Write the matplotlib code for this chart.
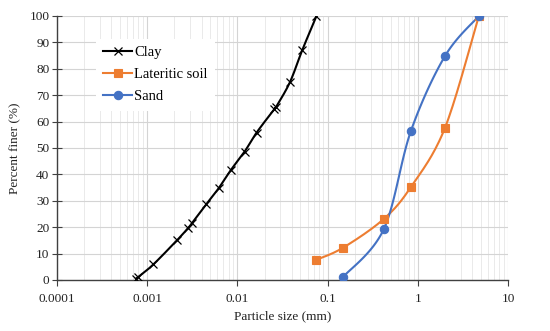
import numpy as np
import matplotlib
matplotlib.use('Agg')
import matplotlib.pyplot as plt
from matplotlib.ticker import LogLocator, FixedLocator, NullFormatter, FixedFormatter

# ---- data ----
clay_size = [0.00075, 0.00080, 0.00117, 0.00216, 0.00286, 0.00316, 0.00454, 0.00618,
             0.00848, 0.0120, 0.0163, 0.0255, 0.0270, 0.0382, 0.0524, 0.0753]
clay_finer = [0.5, 1.2, 5.9, 15.2, 19.8, 21.7, 28.8, 34.7,
              41.7, 48.6, 55.8, 64.6, 65.7, 74.9, 87.1, 100.0]

lat_size = [0.0743, 0.148, 0.419, 0.838, 2.0, 4.75]
lat_finer = [7.6, 12.2, 23.1, 35.2, 57.6, 100.0]

sand_size = [0.148, 0.419, 0.838, 2.0, 4.75]
sand_finer = [1.1, 19.2, 56.4, 84.8, 100.0]

x_ticks = [0.0001, 0.001, 0.01, 0.1, 1, 10]
x_tick_labels = ['0.0001', '0.001', '0.01', '0.1', '1', '10']
y_ticks = list(range(0, 101, 10))

series_names = ['Clay', 'Lateritic soil', 'Sand']

plt.rcParams['font.family'] = ['Liberation Serif', 'DejaVu Serif']
FS = 9.5

fig = plt.figure(figsize=(5.5, 3.31), dpi=100)
ax = fig.add_axes([57/550, 1-280/331, (508-57)/550, (280-16)/331])
ax.set_xscale('log')
ax.set_xlim(0.0001, 10)
ax.set_ylim(0, 100)


def smooth_curve(xs, ys, n=30):
    """Excel-like smoothing: cardinal (Catmull-Rom) bezier in display space."""
    pts = ax.transData.transform(np.column_stack([xs, ys]))
    out = [pts[0]]
    m = len(pts)
    for i in range(m - 1):
        p0 = pts[i - 1] if i > 0 else pts[i]
        p1 = pts[i]
        p2 = pts[i + 1]
        p3 = pts[i + 2] if i + 2 < m else pts[i + 1]
        c1 = p1 + (p2 - p0) / 6.0
        c2 = p2 - (p3 - p1) / 6.0
        t = np.linspace(0, 1, n)[1:, None]
        seg = ((1 - t) ** 3) * p1 + 3 * ((1 - t) ** 2) * t * c1 + 3 * (1 - t) * t ** 2 * c2 + t ** 3 * p2
        out.extend(seg)
    out = np.array(out)
    data = ax.transData.inverted().transform(out)
    return data[:, 0], data[:, 1]


colors = ['black', '#ED7D31', '#4472C4']
markers = ['x', 's', 'o']
msizes = [5.5, 6, 6]
datasets = [(clay_size, clay_finer), (lat_size, lat_finer), (sand_size, sand_finer)]

handles = []
for (xs, ys), c, mk, ms, name in zip(datasets, colors, markers, msizes, series_names):
    sx, sy = smooth_curve(xs, ys)
    ax.plot(sx, sy, color=c, lw=1.5, zorder=3)
    ax.plot(xs, ys, linestyle='none', marker=mk, color=c, markersize=ms,
            markeredgewidth=0.9 if mk == 'x' else 0.8, zorder=4)
    h, = ax.plot([], [], color=c, lw=1.5, marker=mk, markersize=ms,
                 markeredgewidth=0.9 if mk == 'x' else 0.8)
    handles.append(h)

# grid
ax.xaxis.set_major_locator(FixedLocator(x_ticks))
ax.xaxis.set_major_formatter(FixedFormatter(x_tick_labels))
ax.xaxis.set_minor_locator(LogLocator(base=10, subs=np.arange(2, 10)))
ax.xaxis.set_minor_formatter(NullFormatter())
ax.set_yticks(y_ticks)
ax.grid(which='major', color='#D4D4D4', lw=0.8, zorder=0)
ax.grid(which='minor', axis='x', color='#EAEAEA', lw=0.7, zorder=0)
ax.set_axisbelow(True)

for s in ['top', 'right']:
    ax.spines[s].set_visible(False)
for s in ['left', 'bottom']:
    ax.spines[s].set_color('#404040')
    ax.spines[s].set_linewidth(1.0)

ax.tick_params(axis='x', which='major', direction='out', length=4, color='#404040',
               labelsize=FS, labelcolor='#222222', pad=5)
ax.tick_params(axis='x', which='minor', length=0)
ax.tick_params(axis='y', which='major', direction='inout', length=7, color='#404040',
               labelsize=FS, labelcolor='#222222', pad=2)

ax.set_xlabel('Particle size (mm)', fontsize=FS, color='#222222', labelpad=4)
ax.set_ylabel('Percent finer (%)', fontsize=FS, color='#222222', labelpad=6)

leg = ax.legend(handles, series_names, loc='upper left', bbox_to_anchor=(0.0695, 0.941),
                fontsize=FS + 1, frameon=True, fancybox=False, framealpha=1,
                edgecolor='none', facecolor='white', handlelength=2.0,
                handletextpad=0.15, labelspacing=0.6, borderpad=0.5)
leg.set_zorder(5)

fig.savefig('out.png', dpi=100)
